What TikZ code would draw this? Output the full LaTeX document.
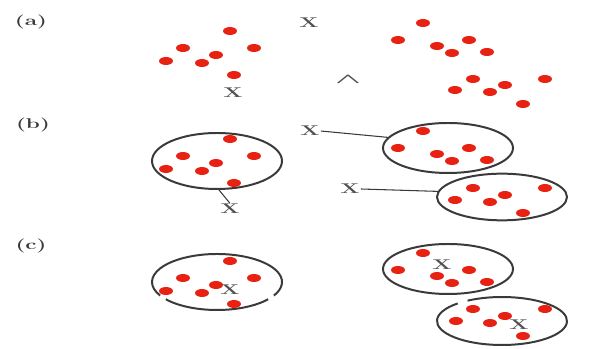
\documentclass[tikz,border=0pt]{standalone}
\usepackage{tikz}
\usetikzlibrary{shapes.geometric,calc}
\definecolor{ptred}{RGB}{232,34,18}
\definecolor{ptink}{RGB}{58,58,58}
\definecolor{ptgrey}{RGB}{80,80,80}
\tikzset{
  blob/.style={ellipse, fill=ptred, inner sep=0pt, minimum width=4.2mm, minimum height=2.4mm},
  clus/.style={ellipse, draw=ptink, line width=1.7pt, inner sep=0pt, minimum width=3.9cm},
  rim/.style={draw=ptink, line width=1.7pt},
  xmark/.style={text=ptgrey, font=\large\bfseries, inner sep=0.5pt, xscale=1.6},
  tag/.style={text=ptink, font=\large\bfseries, inner sep=1pt, xscale=1.6},
  tie/.style={draw=ptink, line width=0.9pt}
}
\begin{document}
\begin{tikzpicture}[x=0.03cm,y=-0.03cm]
  \useasboundingbox (0,0) rectangle (608,349);

  \node[tag] (ta) at (31,22) {(a)};
  \node[tag] (tb) at (33,125) {(b)};
  \node[tag] (tc) at (31,246) {(c)};

  % (a) loose particles
  \begin{scope}[shift={(217,53)}]
    \foreach \dx/\dy [count=\i] in {13/-22,-34/-5,37/-5,-1/2,-51/8,-15/10,17/22}
      \node[blob] (aL\i) at (\dx,\dy) {};
  \end{scope}
  \begin{scope}[shift={(448,40)}]
    \foreach \dx/\dy [count=\i] in {-25/-17,-50/0,21/0,-11/6,4/13,39/12}
      \node[blob] (aU\i) at (\dx,\dy) {};
  \end{scope}
  \begin{scope}[shift={(502,88)}]
    \foreach \dx/\dy [count=\i] in {-29/-9,43/-9,3/-3,-47/2,-12/4,21/16}
      \node[blob] (aD\i) at (\dx,\dy) {};
  \end{scope}
  \node[xmark] (xa1) at (233,93) {X};
  \node[xmark] (xa2) at (309,23) {X};
  \node[xmark, font={\large\boldmath}, xscale=1.5] (xa3) at (348,80) {$\wedge$};

  % (b) grouped, X outside
  \node[clus, minimum height=1.68cm] (bL) at (217,161) {};
  \node[clus, minimum height=1.5cm] (bU) at (448,148) {};
  \node[clus, minimum height=1.4cm] (bD) at (502,197) {};
  \begin{scope}[shift={(217,161)}]
    \foreach \dx/\dy [count=\i] in {13/-22,-34/-5,37/-5,-1/2,-51/8,-15/10,17/22}
      \node[blob] (bL\i) at (\dx,\dy) {};
  \end{scope}
  \begin{scope}[shift={(448,148)}]
    \foreach \dx/\dy [count=\i] in {-25/-17,-50/0,21/0,-11/6,4/13,39/12}
      \node[blob] (bU\i) at (\dx,\dy) {};
  \end{scope}
  \begin{scope}[shift={(502,197)}]
    \foreach \dx/\dy [count=\i] in {-29/-9,43/-9,3/-2,-47/3,-12/5,21/16}
      \node[blob] (bD\i) at (\dx,\dy) {};
  \end{scope}
  \node[xmark] (xb1) at (230,209) {X};
  \node[xmark] (xb2) at (310,131) {X};
  \node[xmark] (xb3) at (350,189) {X};
  \draw[tie] (xb1.north) -- (bL.274);
  \draw[tie] (xb2.east) -- (bU.170);
  \draw[tie] (xb3.east) -- (bD.175);

  % (c) grouped, X inside
  \coordinate (cL) at (217,282);
  \coordinate (cU) at (448,269);
  \coordinate (cD) at (502,321);
  \draw[rim] ($(cL)+(218:1.95cm and 0.84cm)$)
    arc[start angle=218, end angle=322, x radius=1.95cm, y radius=0.84cm];
  \draw[rim] ($(cL)+(331:1.95cm and 0.84cm)$)
    arc[start angle=331, end angle=569, x radius=1.95cm, y radius=0.84cm];
  \draw[rim] (cU) ellipse[x radius=1.95cm, y radius=0.75cm];
  \draw[rim] ($(cD)+(133:1.95cm and 0.72cm)$)
    arc[start angle=133, end angle=482, x radius=1.95cm, y radius=0.72cm];
  \begin{scope}[shift={(217,283)}]
    \foreach \dx/\dy [count=\i] in {13/-22,-34/-5,37/-5,-1/2,-51/8,-15/10,17/21}
      \node[blob] (cL\i) at (\dx,\dy) {};
  \end{scope}
  \begin{scope}[shift={(448,270)}]
    \foreach \dx/\dy [count=\i] in {-25/-17,-50/0,21/0,-11/6,4/13,39/12}
      \node[blob] (cU\i) at (\dx,\dy) {};
  \end{scope}
  \begin{scope}[shift={(502,319)}]
    \foreach \dx/\dy [count=\i] in {-29/-10,43/-10,3/-3,-46/2,-12/4,21/17}
      \node[blob] (cD\i) at (\dx,\dy) {};
  \end{scope}
  \node[xmark] (xc1) at (230,290) {X};
  \node[xmark] (xc2) at (442,265) {X};
  \node[xmark] (xc3) at (519,325) {X};
\end{tikzpicture}
\end{document}
